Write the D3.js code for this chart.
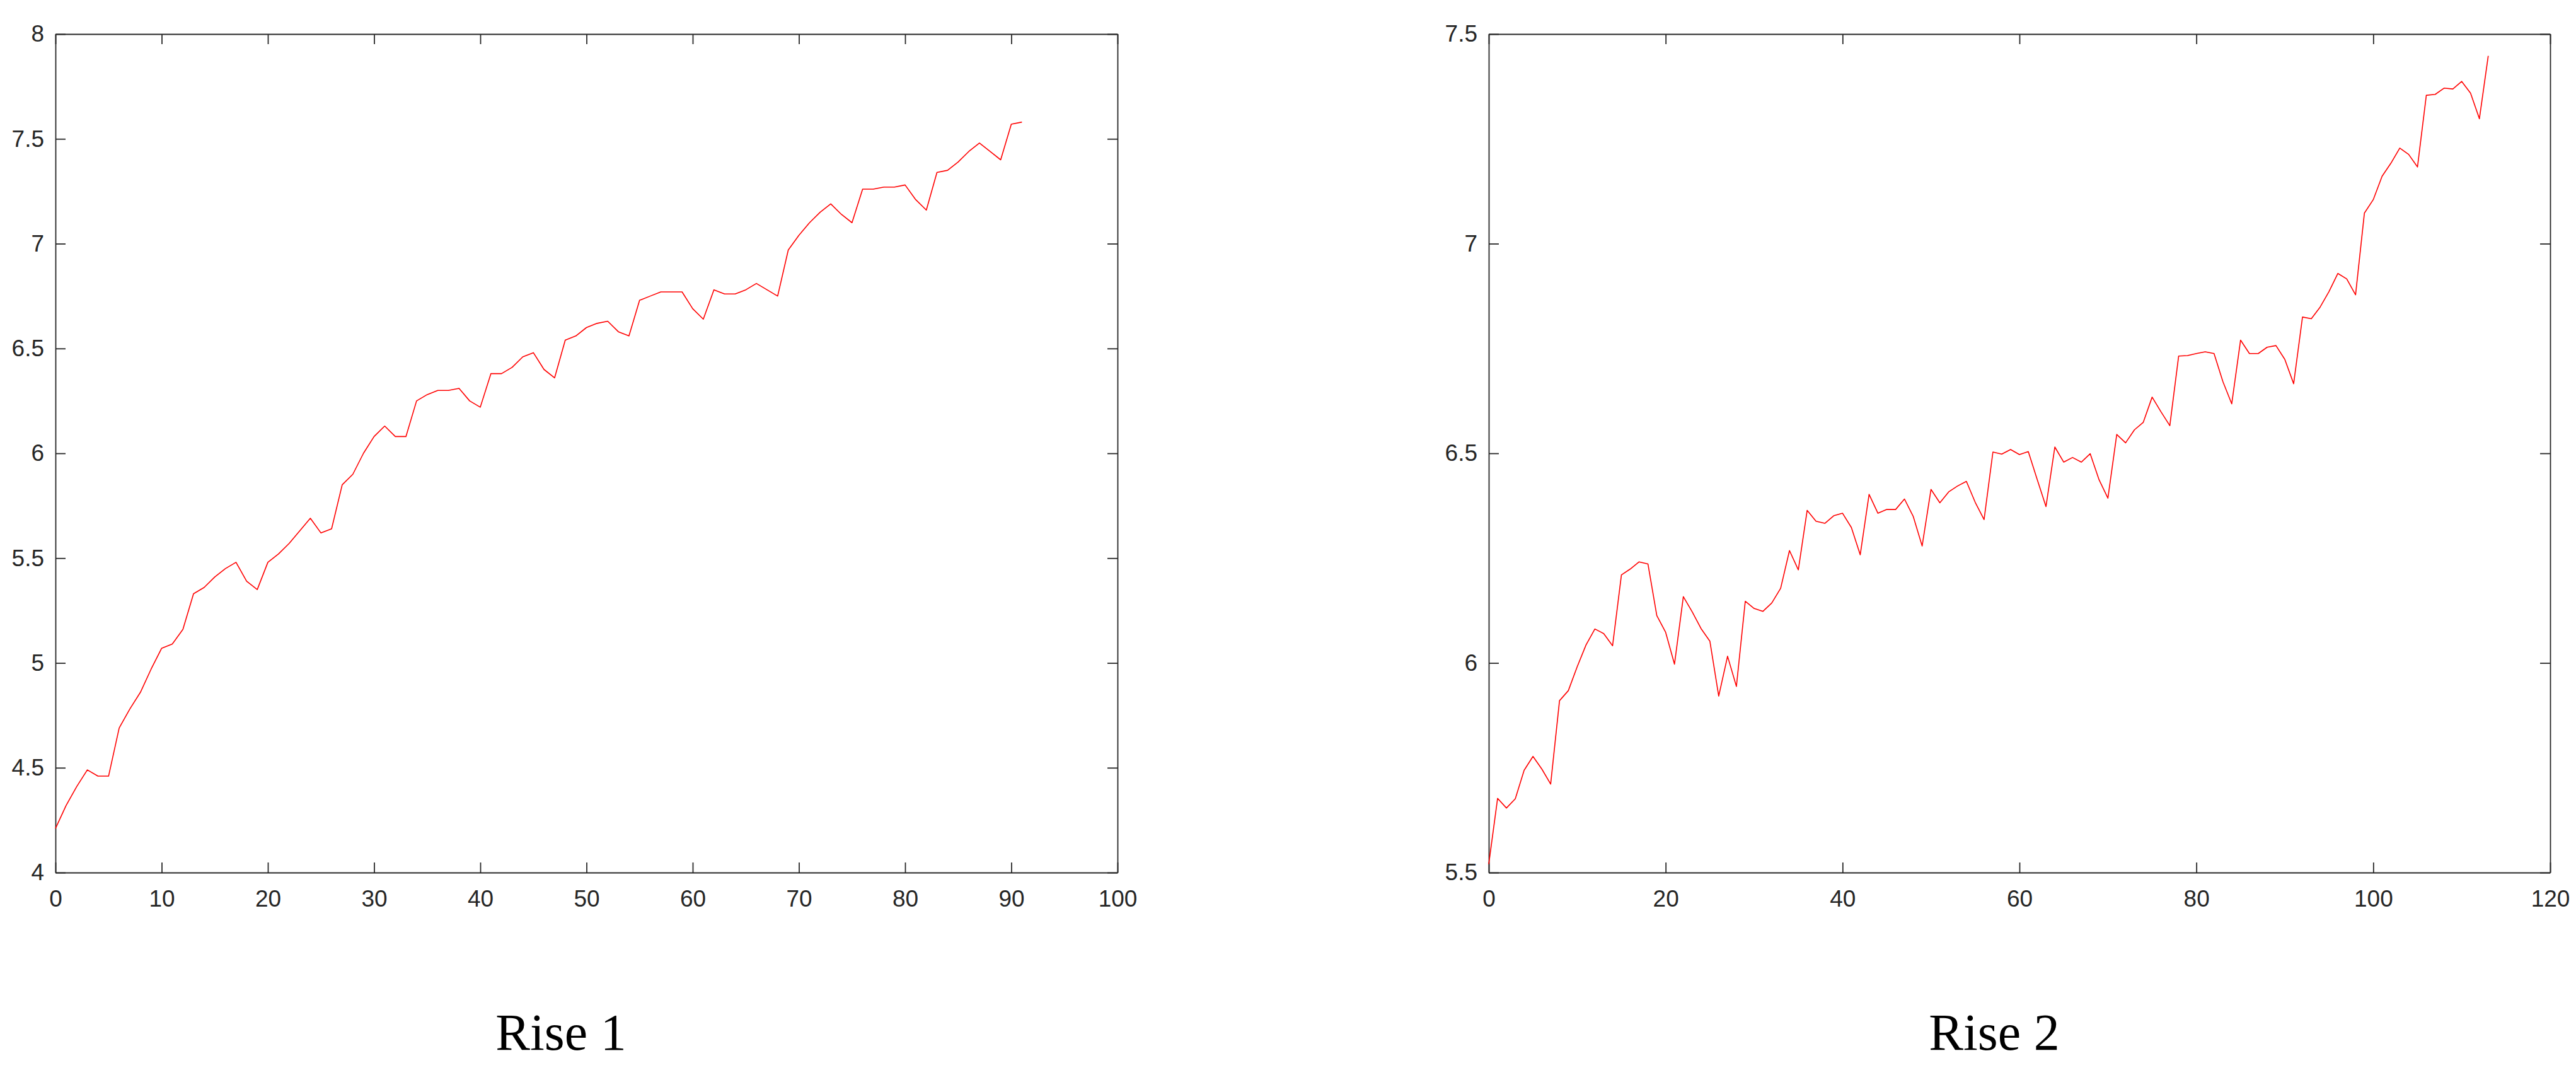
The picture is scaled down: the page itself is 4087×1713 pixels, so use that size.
<!DOCTYPE html>
<html>
<head>
<meta charset="utf-8">
<script src="https://cdn.jsdelivr.net/npm/d3@7"></script>
<style>
  html, body { margin: 0; padding: 0; background: #fff; }
  svg { display: block; }
</style>
</head>
<body>
<svg id="chart" width="4087" height="1713"></svg>
<script>
// ---- Data ----
const rise1Values = [
  4.21, 4.32, 4.41, 4.49, 4.46, 4.46, 4.69, 4.78, 4.86, 4.97,
  5.07, 5.09, 5.16, 5.33, 5.36, 5.41, 5.45, 5.48, 5.39, 5.35,
  5.48, 5.52, 5.57, 5.63, 5.69, 5.62, 5.64, 5.85, 5.90, 6.00,
  6.08, 6.13, 6.08, 6.08, 6.25, 6.28, 6.30, 6.30, 6.31, 6.25,
  6.22, 6.38, 6.38, 6.41, 6.46, 6.48, 6.40, 6.36, 6.54, 6.56,
  6.60, 6.62, 6.63, 6.58, 6.56, 6.73, 6.75, 6.77, 6.77, 6.77,
  6.69, 6.64, 6.78, 6.76, 6.76, 6.78, 6.81, 6.78, 6.75, 6.97,
  7.04, 7.10, 7.15, 7.19, 7.14, 7.10, 7.26, 7.26, 7.27, 7.27,
  7.28, 7.21, 7.16, 7.34, 7.35, 7.39, 7.44, 7.48, 7.44, 7.40,
  7.57, 7.58
];
const rise2Values = [
  5.52, 5.677, 5.654, 5.676, 5.744, 5.777, 5.747, 5.711, 5.910, 5.934,
  5.991, 6.043, 6.081, 6.070, 6.041, 6.210, 6.224, 6.241, 6.236, 6.113,
  6.073, 5.997, 6.158, 6.122, 6.082, 6.052, 5.921, 6.016, 5.944, 6.147,
  6.130, 6.123, 6.143, 6.178, 6.268, 6.222, 6.364, 6.338, 6.333, 6.351,
  6.357, 6.323, 6.258, 6.402, 6.357, 6.366, 6.366, 6.391, 6.349, 6.279,
  6.414, 6.382, 6.408, 6.422, 6.433, 6.383, 6.342, 6.503, 6.498, 6.509,
  6.497, 6.504, 6.438, 6.373, 6.515, 6.479, 6.490, 6.479, 6.499, 6.437,
  6.393, 6.545, 6.525, 6.556, 6.574, 6.634, 6.599, 6.566, 6.732, 6.733,
  6.738, 6.742, 6.738, 6.671, 6.618, 6.770, 6.738, 6.738, 6.753, 6.757,
  6.724, 6.666, 6.825, 6.821, 6.849, 6.886, 6.929, 6.916, 6.878, 7.073,
  7.105, 7.161, 7.192, 7.228, 7.213, 7.183, 7.354, 7.356, 7.371, 7.369,
  7.387, 7.359, 7.298, 7.448
];
const rise1XTicks = [0, 10, 20, 30, 40, 50, 60, 70, 80, 90, 100];
const rise1YTicks = [4, 4.5, 5, 5.5, 6, 6.5, 7, 7.5, 8];
const rise2XTicks = [0, 20, 40, 60, 80, 100, 120];
const rise2YTicks = [5.5, 6, 6.5, 7, 7.5];
const titles = ["Rise 1", "Rise 2"];

// ---- Layout ----
const svg = d3.select("#chart");
const axisColor = "#262626";
const panels = [
  { values: rise1Values, xDomain: [0, 100], yDomain: [4, 8], xTicks: rise1XTicks, yTicks: rise1YTicks,
    left: 88, right: 1773, top: 54, bottom: 1384, title: titles[0], titleX: 890 },
  { values: rise2Values, xDomain: [0, 120], yDomain: [5.5, 7.5], xTicks: rise2XTicks, yTicks: rise2YTicks,
    left: 2362, right: 4046, top: 54, bottom: 1384, title: titles[1], titleX: 3164 }
];

const fmt = d => String(+d.toFixed(2));

panels.forEach(p => {
  const x = d3.scaleLinear().domain(p.xDomain).range([p.left, p.right]);
  const y = d3.scaleLinear().domain(p.yDomain).range([p.bottom, p.top]);
  const g = svg.append("g");

  const tickLen = 16;
  const styleAxis = sel => {
    sel.selectAll("path.domain").attr("stroke", axisColor).attr("stroke-width", 1.8);
    sel.selectAll(".tick line").attr("stroke", axisColor).attr("stroke-width", 1.8);
    sel.selectAll(".tick text").attr("fill", axisColor)
      .attr("font-family", "'Liberation Sans', Arial, Helvetica, sans-serif")
      .attr("font-size", 37);
  };

  // bottom
  g.append("g").attr("transform", `translate(0,${p.bottom})`)
    .call(d3.axisBottom(x).tickValues(p.xTicks).tickFormat(fmt).tickSizeInner(-tickLen).tickSizeOuter(0).tickPadding(28))
    .call(styleAxis);
  // left
  g.append("g").attr("transform", `translate(${p.left},0)`)
    .call(d3.axisLeft(y).tickValues(p.yTicks).tickFormat(fmt).tickSizeInner(-tickLen).tickSizeOuter(0).tickPadding(18))
    .call(styleAxis);
  // top (mirror)
  g.append("g").attr("transform", `translate(0,${p.top})`)
    .call(d3.axisTop(x).tickValues(p.xTicks).tickFormat("").tickSizeInner(-tickLen).tickSizeOuter(0))
    .call(styleAxis);
  // right (mirror)
  g.append("g").attr("transform", `translate(${p.right},0)`)
    .call(d3.axisRight(y).tickValues(p.yTicks).tickFormat("").tickSizeInner(-tickLen).tickSizeOuter(0))
    .call(styleAxis);

  // line
  const line = d3.line().x((d, i) => x(i)).y(d => y(d));
  g.append("path").datum(p.values)
    .attr("fill", "none").attr("stroke", "#ff0000").attr("stroke-width", 1.6)
    .attr("stroke-linejoin", "round")
    .attr("d", line);

  // title
  svg.append("text").attr("x", p.titleX).attr("y", 1665)
    .attr("text-anchor", "middle")
    .attr("font-family", "'Liberation Serif', 'DejaVu Serif', serif")
    .attr("font-size", 82).attr("fill", "#000")
    .text(p.title);
});
</script>
</body>
</html>
